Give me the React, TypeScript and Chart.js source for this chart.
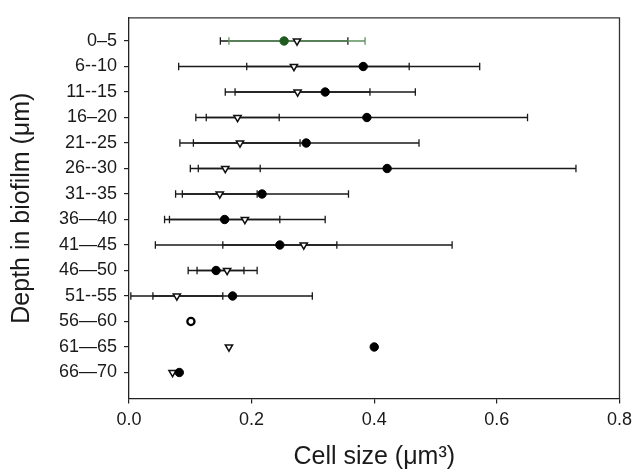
import React, { useEffect, useRef } from "react";
import { Chart, registerables } from "chart.js";

Chart.register(...registerables);

const depthLabels = [
  "0–5", "6--10", "11--15", "16–20", "21--25", "26--30", "31--35",
  "36—40", "41—45", "46—50", "51--55", "56—60", "61—65", "66—70",
];

const xTickValues = [0, 0.2, 0.4, 0.6, 0.8];

// filled circles (mean) and their SD
const circleMean = [0.253, 0.382, 0.32, 0.388, 0.289, 0.421, 0.217, 0.156, 0.246, 0.142, 0.169, 0.101, 0.4, 0.082];
const circleSD: (number | null)[] = [0.104, 0.19, 0.147, 0.262, 0.184, 0.308, 0.141, 0.09, 0.093, 0.0455, 0.13, null, null, null];

// open triangles (mean) and their SD
const triMean: (number | null)[] = [0.274, 0.269, 0.275, 0.177, 0.181, 0.157, 0.148, 0.189, 0.285, 0.16, 0.078, null, 0.163, 0.071];
const triSD: (number | null)[] = [0.111, 0.188, 0.118, 0.068, 0.098, 0.057, 0.061, 0.131, 0.242, 0.049, 0.075, null, null, null];

const FONT = "'Liberation Sans', Arial, Helvetica, sans-serif";
const INK = "#1a1a1a";
const GREEN_LINE = "#5e915e";
const GREEN_DOT = "#1f5a1f";

const errorBarPlugin = {
  id: "errorBars",
  beforeDatasetsDraw(chart: any) {
    const { ctx, scales } = chart;
    const xs = scales.x;
    const ys = scales.y;
    const drawSeries = (means: (number | null)[], sds: (number | null)[], colorFor: (i: number) => string) => {
      means.forEach((m, i) => {
        const sd = sds[i];
        if (m == null || sd == null) return;
        const y = ys.getPixelForValue(i);
        const x1 = xs.getPixelForValue(m - sd);
        const x2 = xs.getPixelForValue(m + sd);
        ctx.save();
        ctx.strokeStyle = colorFor(i);
        ctx.lineWidth = 1.3;
        ctx.beginPath();
        ctx.moveTo(x1, y);
        ctx.lineTo(x2, y);
        ctx.moveTo(x1, y - 3.8);
        ctx.lineTo(x1, y + 3.8);
        ctx.moveTo(x2, y - 3.8);
        ctx.lineTo(x2, y + 3.8);
        ctx.stroke();
        ctx.restore();
      });
    };
    drawSeries(circleMean, circleSD, () => INK);
    drawSeries(triMean, triSD, (i) => (i === 0 ? GREEN_LINE : INK));
  },
};

const framePlugin = {
  id: "frame",
  afterDraw(chart: any) {
    const { ctx, chartArea } = chart;
    ctx.save();
    ctx.strokeStyle = "#333";
    ctx.lineWidth = 1.3;
    ctx.beginPath();
    ctx.moveTo(chartArea.left, chartArea.top);
    ctx.lineTo(chartArea.right, chartArea.top);
    ctx.lineTo(chartArea.right, chartArea.bottom);
    ctx.stroke();
    ctx.restore();
  },
};

export default function App() {
  const ref = useRef<HTMLCanvasElement>(null);

  useEffect(() => {
    if (!ref.current) return;
    const circlePts = circleMean.map((v, i) => ({ x: v, y: i }));
    const triPts = triMean
      .map((v, i) => (v == null ? null : { x: v, y: i }))
      .filter((p) => p !== null) as { x: number; y: number }[];

    const chart = new Chart(ref.current, {
      type: "scatter",
      data: {
        datasets: [
          {
            label: "circle",
            data: circlePts,
            order: 0,
            pointStyle: "circle",
            pointRadius: circleMean.map((_, i) => (i === 11 ? 3.6 : 4.2)),
            pointBorderWidth: circleMean.map((_, i) => (i === 11 ? 2.3 : 1)),
            pointBackgroundColor: circleMean.map((_, i) => (i === 0 ? GREEN_DOT : i === 11 ? "#ffffff" : "#000000")),
            pointBorderColor: circleMean.map((_, i) => (i === 0 ? GREEN_DOT : "#000000")),
            showLine: false,
          },
          {
            label: "triangle",
            data: triPts,
            order: 1,
            pointStyle: "triangle",
            pointRotation: 180,
            pointRadius: 4.2,
            pointBorderWidth: 1.5,
            pointBackgroundColor: "#ffffff",
            pointBorderColor: "#111111",
            showLine: false,
          },
        ],
      },
      options: {
        responsive: false,
        devicePixelRatio: 1,
        animation: false,
        layout: { padding: { top: 11, right: 11, left: 0, bottom: 0 } },
        plugins: {
          legend: { display: false },
          tooltip: { enabled: false },
        },
        scales: {
          x: {
            type: "linear",
            min: 0,
            max: 0.8,
            afterBuildTicks: (axis: any) => {
              axis.ticks = xTickValues.map((v) => ({ value: v }));
            },
            afterFit: (scale: any) => {
              scale.height = 73.5;
            },
            ticks: {
              callback: (v: any) => Number(v).toFixed(1),
              color: INK,
              font: { family: FONT, size: 18 },
              padding: 6,
              maxRotation: 0,
            },
            grid: {
              drawOnChartArea: false,
              drawTicks: true,
              tickLength: 5,
              color: "#222",
              lineWidth: 1.2,
            },
            border: { display: true, color: "#222", width: 1.3 },
            title: {
              display: true,
              text: "Cell size (μm³)",
              color: INK,
              font: { family: FONT, size: 25 },
              padding: { top: 0, bottom: 0 },
            },
          },
          y: {
            type: "linear",
            reverse: true,
            min: -0.91,
            max: 14.02,
            afterBuildTicks: (axis: any) => {
              axis.ticks = depthLabels.map((_, i) => ({ value: i }));
            },
            afterFit: (scale: any) => {
              scale.width = 129;
            },
            ticks: {
              autoSkip: false,
              callback: (v: any) => depthLabels[Math.round(Number(v))] ?? "",
              color: INK,
              font: { family: FONT, size: 18 },
              padding: 7,
            },
            grid: {
              drawOnChartArea: false,
              drawTicks: true,
              tickLength: 5,
              color: "#222",
              lineWidth: 1.2,
            },
            border: { display: true, color: "#222", width: 1.3 },
            title: {
              display: true,
              text: "Depth in biofilm (μm)",
              color: INK,
              font: { family: FONT, size: 25 },
              padding: { top: 7, bottom: 0 },
            },
          },
        },
      },
      plugins: [errorBarPlugin, framePlugin],
    } as any);

    return () => chart.destroy();
  }, []);

  return (
    <div style={{ position: "fixed", left: 0, top: 0, width: 638, height: 472, background: "#ffffff" }}>
      <canvas ref={ref} width={638} height={472} style={{ display: "block", width: 638, height: 472 }} />
    </div>
  );
}
